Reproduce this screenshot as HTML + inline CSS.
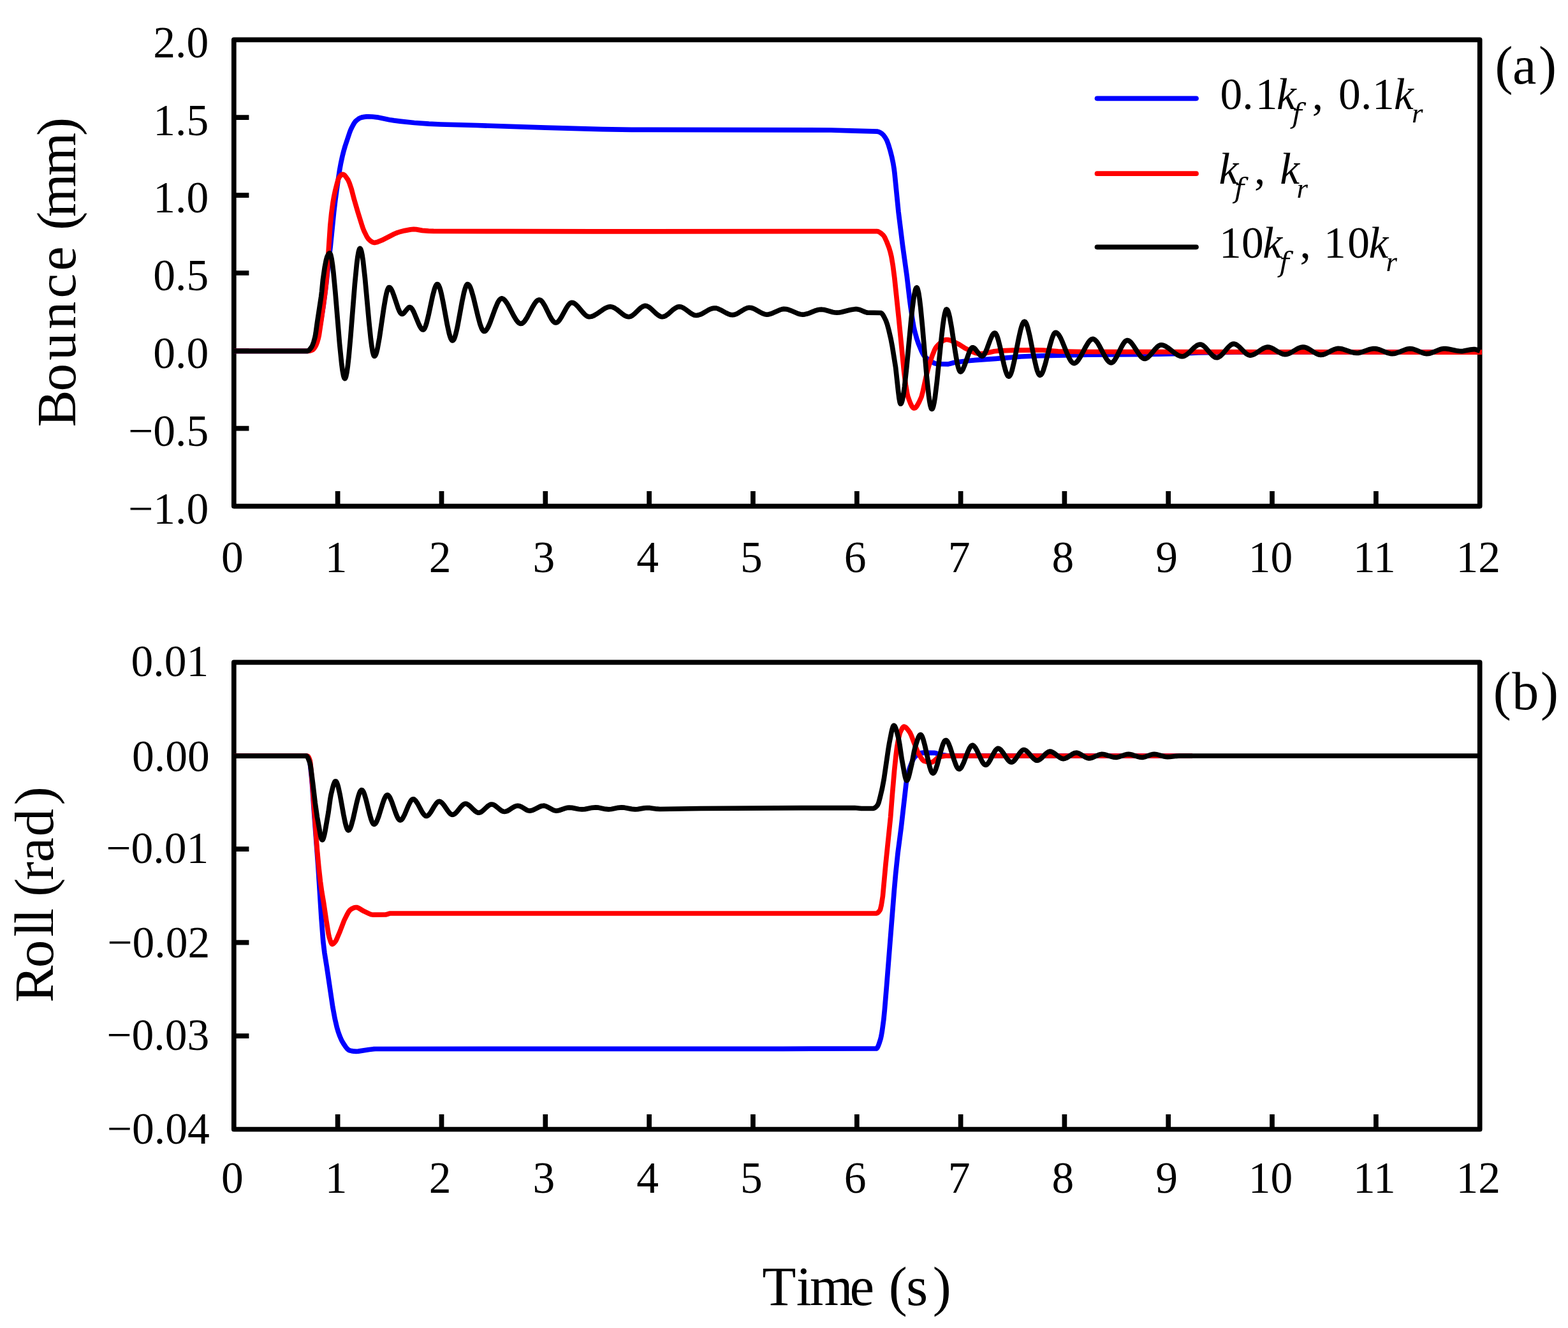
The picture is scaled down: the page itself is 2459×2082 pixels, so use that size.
<!DOCTYPE html>
<html><head><meta charset="utf-8"><title>Bounce and Roll response</title><style>html,body{margin:0;padding:0;background:#fff;}svg{display:block;}</style></head><body>
<svg width="2459" height="2082" viewBox="0 0 2459 2082">
<rect width="2459" height="2082" fill="#fff"/>
<rect x="366.8" y="62.3" width="1953.9" height="731.3" fill="none" stroke="#000" stroke-width="7.7" stroke-linejoin="round"/>
<path d="M529.6 793.6V770.0M692.5 793.6V770.0M855.3 793.6V770.0M1018.1 793.6V770.0M1180.9 793.6V770.0M1343.8 793.6V770.0M1506.6 793.6V770.0M1669.4 793.6V770.0M1832.2 793.6V770.0M1995.0 793.6V770.0M2157.9 793.6V770.0M366.8 184.2H390.4M366.8 306.1H390.4M366.8 428.0H390.4M366.8 549.8H390.4M366.8 671.7H390.4" stroke="#000" stroke-width="7.7" fill="none"/>
<rect x="366.8" y="1038.4" width="1953.9" height="732.1" fill="none" stroke="#000" stroke-width="7.7" stroke-linejoin="round"/>
<path d="M529.6 1770.5V1746.9M692.5 1770.5V1746.9M855.3 1770.5V1746.9M1018.1 1770.5V1746.9M1180.9 1770.5V1746.9M1343.8 1770.5V1746.9M1506.6 1770.5V1746.9M1669.4 1770.5V1746.9M1832.2 1770.5V1746.9M1995.0 1770.5V1746.9M2157.9 1770.5V1746.9M366.8 1184.8H390.4M366.8 1331.2H390.4M366.8 1477.7H390.4M366.8 1624.1H390.4" stroke="#000" stroke-width="7.7" fill="none"/>
<path d="M367.0 550.3 L482.6 550.3 L485.6 549.7 L488.8 548.4 L490.8 546.5 L493.2 543.2 L494.8 539.6 L497.2 532.4 L500.2 520.4 L502.2 509.9 L507.2 479.1 L511.0 449.4 L518.4 384.9 L523.6 332.8 L525.8 314.2 L528.6 293.6 L532.4 267.7 L534.4 256.6 L537.0 244.6 L539.0 236.7 L541.2 229.1 L548.2 208.1 L549.8 203.9 L551.4 200.5 L553.6 196.2 L555.6 192.8 L557.4 190.4 L559.4 188.5 L562.4 186.2 L565.0 184.8 L567.0 184.1 L570.8 183.4 L574.6 182.9 L578.0 182.8 L583.8 183.0 L591.4 183.8 L602.2 186.1 L610.4 187.7 L617.8 188.9 L627.4 190.1 L649.8 192.5 L672.6 194.2 L691.2 195.0 L747.6 196.5 L855.4 200.2 L944.0 202.6 L990.4 203.3 L1303.2 204.0 L1340.8 205.2 L1368.2 205.8 L1376.2 206.2 L1378.6 206.9 L1380.6 207.9 L1383.0 209.5 L1385.2 211.5 L1388.2 215.5 L1390.8 220.2 L1393.4 227.1 L1396.2 236.5 L1398.8 246.7 L1400.8 256.5 L1402.2 265.2 L1403.0 271.8 L1409.0 332.2 L1415.6 385.3 L1422.2 432.7 L1426.6 470.0 L1428.2 482.2 L1431.8 506.0 L1433.0 512.5 L1434.6 519.5 L1437.4 529.9 L1440.6 539.4 L1445.0 550.1 L1446.8 553.8 L1448.4 556.5 L1449.6 558.2 L1451.4 560.1 L1455.4 563.5 L1463.4 568.5 L1465.6 569.5 L1467.6 570.1 L1476.4 570.6 L1487.2 570.8 L1489.6 570.3 L1496.0 568.5 L1504.8 567.2 L1514.8 566.0 L1529.0 564.7 L1561.6 562.4 L1601.6 559.0 L1625.0 558.0 L1671.4 556.8 L1706.6 556.2 L1784.8 555.6 L1819.6 555.1 L1851.6 554.3 L1879.4 553.0 L1936.8 552.1 L2059.8 551.8 L2322.0 551.8" fill="none" stroke="#00f" stroke-width="7.7" stroke-linejoin="round" stroke-linecap="butt"/>
<path d="M367.0 550.3 L484.4 550.3 L487.2 549.7 L490.4 548.4 L492.2 546.7 L494.2 543.8 L495.8 540.9 L497.4 536.8 L499.2 530.7 L500.4 525.3 L504.4 498.4 L510.0 458.2 L511.6 443.3 L513.2 423.6 L517.8 354.0 L519.8 334.2 L522.0 318.0 L523.8 307.7 L525.6 299.2 L528.6 287.4 L530.4 281.3 L531.8 278.1 L533.4 276.0 L535.6 273.9 L536.6 273.4 L537.4 273.3 L538.4 273.5 L539.6 274.1 L541.0 275.4 L542.4 277.1 L545.8 282.0 L548.0 287.0 L551.2 296.5 L555.4 312.7 L561.0 331.8 L568.0 354.3 L569.6 358.9 L571.2 362.8 L575.0 370.4 L576.6 373.0 L578.0 374.9 L580.0 376.8 L582.8 378.9 L584.6 379.9 L586.4 380.4 L588.4 380.3 L590.8 379.8 L598.8 376.7 L618.2 366.8 L623.4 364.6 L629.0 362.9 L634.6 361.6 L643.8 359.9 L648.8 359.4 L652.6 359.6 L662.2 361.4 L672.2 362.1 L680.0 362.3 L795.4 362.7 L932.0 362.9 L1375.0 362.6 L1376.4 362.8 L1377.8 363.2 L1380.8 365.0 L1384.8 368.4 L1386.2 370.1 L1387.8 372.8 L1390.6 379.0 L1394.2 388.4 L1396.2 395.0 L1398.0 402.5 L1400.4 416.9 L1402.8 435.5 L1409.4 498.3 L1417.4 580.2 L1418.4 588.9 L1420.4 603.4 L1422.8 617.4 L1423.8 621.4 L1425.4 626.1 L1427.6 632.0 L1429.6 636.2 L1431.4 638.8 L1432.4 639.7 L1433.2 640.0 L1434.4 639.8 L1435.6 639.2 L1436.8 638.0 L1438.2 636.1 L1441.2 630.7 L1445.0 622.2 L1447.2 614.1 L1452.0 591.7 L1456.4 574.6 L1457.8 569.9 L1461.6 558.7 L1465.4 549.1 L1467.0 546.0 L1468.4 543.9 L1471.6 540.4 L1474.4 537.6 L1476.8 535.6 L1479.2 534.1 L1481.4 533.1 L1483.6 532.5 L1485.6 532.5 L1488.0 532.9 L1490.4 533.6 L1493.0 534.5 L1504.2 540.0 L1514.4 546.4 L1523.4 550.7 L1527.4 552.5 L1530.6 553.6 L1533.6 554.3 L1536.4 554.6 L1539.4 554.5 L1542.8 554.1 L1551.4 552.5 L1559.2 550.8 L1564.2 550.2 L1576.0 549.6 L1588.6 549.2 L1624.4 548.8 L1636.0 549.0 L1659.2 550.8 L1697.6 551.5 L2324.0 552.1" fill="none" stroke="#f00" stroke-width="7.7" stroke-linejoin="round" stroke-linecap="butt"/>
<path d="M367.0 550.3 L482.0 550.3 L483.6 549.8 L485.2 548.5 L488.4 544.5 L490.0 541.5 L492.0 536.0 L494.2 527.8 L495.2 522.0 L497.4 506.0 L503.6 465.3 L504.6 457.1 L506.4 438.8 L509.2 419.2 L511.4 408.1 L512.8 402.9 L514.0 400.3 L515.4 398.0 L516.4 397.0 L517.2 396.8 L517.8 397.5 L518.6 399.3 L520.0 405.4 L521.4 414.5 L523.0 428.0 L526.0 459.9 L532.6 539.5 L535.8 571.1 L537.2 581.4 L538.6 588.8 L539.4 591.5 L540.0 592.8 L540.6 593.5 L541.2 593.3 L541.8 592.4 L542.6 590.2 L544.0 583.4 L545.4 573.6 L547.0 559.2 L549.8 528.0 L556.4 445.5 L559.4 414.5 L560.8 403.4 L562.2 395.3 L563.4 391.0 L564.0 389.9 L564.6 389.5 L565.0 389.7 L565.6 390.5 L566.8 394.0 L568.0 399.8 L569.4 409.1 L572.4 436.0 L578.6 503.7 L581.4 530.8 L583.0 543.2 L584.4 551.4 L585.8 556.6 L586.4 557.9 L587.0 558.5 L587.6 558.4 L588.2 557.9 L589.4 555.7 L590.6 552.2 L592.0 546.4 L595.0 529.9 L601.8 483.6 L604.6 467.0 L606.2 459.5 L607.6 454.6 L609.0 451.5 L609.6 450.8 L610.2 450.5 L611.2 450.7 L612.4 451.8 L613.6 453.5 L615.0 456.2 L617.6 463.0 L624.4 483.2 L626.4 487.9 L628.2 490.9 L629.2 491.9 L630.0 492.3 L630.8 492.4 L631.8 492.1 L632.8 491.4 L634.0 490.2 L638.6 484.4 L640.6 482.4 L641.6 481.8 L642.6 481.6 L643.4 481.7 L644.4 482.3 L646.4 484.5 L648.8 488.9 L656.2 506.8 L658.8 512.3 L660.2 514.5 L661.4 515.9 L662.6 516.8 L663.6 517.0 L664.2 516.8 L664.8 516.4 L666.2 514.3 L667.6 510.9 L669.2 505.7 L672.0 494.2 L678.4 464.3 L681.4 453.1 L682.8 449.3 L684.2 446.7 L685.0 445.8 L685.6 445.5 L686.2 445.5 L686.8 445.9 L688.0 447.4 L689.4 450.7 L690.8 455.2 L692.2 460.8 L695.0 474.4 L701.4 509.2 L704.4 522.8 L705.8 527.6 L707.2 531.3 L708.4 533.2 L709.0 533.8 L709.6 534.0 L710.2 533.9 L710.8 533.4 L712.0 531.7 L713.2 528.8 L714.6 524.2 L716.2 517.7 L717.8 510.1 L724.6 473.0 L727.6 458.8 L729.2 452.9 L730.6 448.9 L732.0 446.4 L732.8 445.7 L733.4 445.5 L734.6 446.0 L736.0 447.6 L737.4 450.2 L739.0 454.4 L742.4 466.1 L749.6 496.1 L752.8 507.9 L754.6 513.1 L756.2 516.6 L757.8 518.8 L758.6 519.3 L759.2 519.5 L760.6 519.2 L762.0 518.1 L763.4 516.4 L765.0 513.7 L766.8 510.0 L768.6 505.7 L776.4 484.3 L779.8 476.1 L781.6 472.6 L783.4 470.0 L785.0 468.5 L786.6 467.9 L788.0 468.1 L789.6 468.9 L791.2 470.3 L793.0 472.4 L795.0 475.2 L797.0 478.6 L805.6 495.0 L809.4 501.4 L811.4 504.0 L813.2 505.9 L815.0 507.0 L816.8 507.5 L818.2 507.3 L819.8 506.4 L821.4 505.0 L823.0 503.2 L826.8 497.3 L834.8 482.0 L838.4 476.0 L840.4 473.3 L842.2 471.5 L844.0 470.4 L845.6 470.0 L846.8 470.2 L848.2 470.9 L849.6 472.2 L851.2 474.2 L854.6 479.8 L862.0 494.8 L865.2 500.5 L867.0 503.0 L868.6 504.7 L870.2 505.7 L871.6 506.0 L872.8 505.8 L874.2 505.1 L875.6 503.9 L877.0 502.3 L880.4 497.1 L887.4 484.3 L890.4 479.5 L892.0 477.4 L893.6 475.8 L895.2 474.8 L896.6 474.4 L898.0 474.5 L899.4 475.0 L901.0 475.8 L902.6 477.0 L906.2 480.5 L913.8 489.5 L917.2 493.1 L919.0 494.6 L920.8 495.8 L922.4 496.4 L924.0 496.7 L927.4 496.3 L931.2 494.9 L935.6 492.3 L945.0 485.8 L949.0 483.3 L953.2 481.5 L955.2 481.0 L957.0 480.8 L960.0 481.2 L963.4 482.6 L967.2 485.1 L975.2 491.6 L978.8 494.2 L982.6 496.1 L984.4 496.5 L986.0 496.7 L988.6 496.2 L991.6 494.7 L995.0 492.0 L1002.2 485.0 L1005.4 482.2 L1008.8 480.1 L1010.4 479.6 L1011.8 479.4 L1013.2 479.5 L1014.6 479.9 L1017.6 481.4 L1021.2 484.2 L1028.6 491.2 L1031.8 493.9 L1035.2 495.9 L1036.8 496.5 L1038.4 496.7 L1041.2 496.3 L1044.2 494.9 L1047.8 492.3 L1055.4 485.7 L1058.6 483.3 L1062.0 481.5 L1063.6 481.0 L1065.0 480.8 L1067.8 481.1 L1070.8 482.3 L1074.4 484.5 L1082.0 490.2 L1085.2 492.3 L1088.6 493.9 L1090.2 494.3 L1091.8 494.5 L1094.8 494.2 L1098.0 493.2 L1101.8 491.4 L1109.8 486.7 L1113.2 484.9 L1116.8 483.6 L1120.2 483.0 L1123.2 483.2 L1126.4 484.2 L1130.2 485.9 L1138.4 490.5 L1141.8 492.1 L1145.4 493.4 L1148.8 493.8 L1151.6 493.4 L1154.6 492.4 L1158.0 490.6 L1165.4 486.0 L1168.6 484.2 L1172.0 482.8 L1175.0 482.3 L1177.8 482.5 L1181.0 483.5 L1184.8 485.3 L1192.4 489.6 L1195.8 491.4 L1199.4 492.7 L1202.6 493.1 L1205.6 492.8 L1208.8 492.0 L1212.4 490.6 L1222.8 485.9 L1226.2 484.9 L1229.2 484.4 L1232.4 484.6 L1236.0 485.3 L1240.0 486.8 L1251.6 491.7 L1255.4 492.7 L1258.8 493.1 L1262.0 492.8 L1265.4 492.1 L1269.2 490.8 L1279.6 486.7 L1282.8 485.8 L1285.8 485.3 L1288.8 485.2 L1292.2 485.6 L1295.8 486.5 L1306.2 489.5 L1309.4 490.0 L1312.4 490.2 L1316.0 490.0 L1320.0 489.3 L1332.6 486.1 L1336.8 485.2 L1340.8 484.7 L1344.2 484.7 L1348.0 485.5 L1356.6 489.1 L1360.4 490.2 L1381.0 490.5 L1381.8 490.7 L1383.2 491.8 L1384.8 493.9 L1386.6 497.1 L1389.2 502.4 L1391.4 508.5 L1393.8 517.3 L1397.0 531.0 L1399.2 542.4 L1404.6 576.2 L1408.6 613.0 L1410.0 624.2 L1411.2 630.8 L1411.8 632.6 L1412.4 633.2 L1413.0 632.9 L1413.8 631.6 L1414.6 629.3 L1415.4 626.1 L1417.0 617.2 L1418.6 605.5 L1421.8 576.0 L1429.0 500.1 L1430.8 483.6 L1432.4 471.0 L1433.8 462.1 L1435.2 455.5 L1436.0 453.0 L1436.6 451.7 L1437.2 451.0 L1437.8 450.9 L1438.4 451.5 L1439.2 453.4 L1440.6 459.2 L1442.0 468.0 L1443.6 481.1 L1446.6 512.0 L1453.2 589.1 L1456.4 619.7 L1457.8 629.6 L1459.0 636.0 L1460.2 640.0 L1460.8 641.0 L1461.4 641.4 L1462.0 641.1 L1462.6 640.2 L1463.8 636.7 L1465.0 631.2 L1466.4 622.6 L1469.4 598.1 L1475.8 534.8 L1478.6 510.3 L1480.2 499.1 L1481.6 491.7 L1483.0 486.8 L1483.8 485.3 L1484.4 484.9 L1485.0 485.1 L1485.6 485.6 L1486.8 487.9 L1488.0 491.7 L1489.4 497.5 L1492.2 512.9 L1498.0 551.1 L1500.4 565.3 L1501.8 572.1 L1503.0 576.8 L1504.2 580.3 L1505.4 582.4 L1506.0 582.8 L1506.4 582.9 L1507.6 582.4 L1509.0 580.8 L1510.4 578.3 L1513.0 572.0 L1519.8 552.5 L1521.6 548.6 L1523.4 545.9 L1524.4 545.0 L1525.2 544.8 L1526.2 544.9 L1527.4 545.5 L1528.6 546.5 L1530.0 548.0 L1535.0 554.5 L1537.2 556.9 L1538.4 557.8 L1539.6 558.3 L1540.6 558.4 L1541.6 557.9 L1542.6 557.0 L1543.6 555.7 L1545.8 551.5 L1548.0 546.1 L1553.0 532.5 L1555.6 526.6 L1556.8 524.6 L1558.0 523.0 L1559.2 522.2 L1560.2 522.0 L1561.4 522.8 L1562.8 525.0 L1564.2 528.5 L1565.6 533.0 L1568.2 543.4 L1574.4 571.4 L1577.2 581.9 L1578.6 585.8 L1579.8 588.3 L1581.0 589.8 L1582.0 590.2 L1582.6 590.0 L1583.2 589.6 L1584.4 587.9 L1585.8 584.7 L1587.2 580.3 L1590.4 566.9 L1597.4 531.2 L1600.4 517.8 L1602.0 512.0 L1603.6 507.6 L1605.2 504.9 L1606.0 504.3 L1606.6 504.1 L1607.2 504.3 L1607.8 504.7 L1609.0 506.4 L1610.4 509.6 L1611.8 513.9 L1615.0 527.2 L1622.0 562.4 L1625.0 575.5 L1626.6 581.1 L1628.2 585.2 L1629.6 587.5 L1630.4 588.1 L1631.0 588.3 L1632.2 587.8 L1633.4 586.5 L1634.8 584.0 L1636.2 580.5 L1639.4 570.1 L1646.4 542.2 L1649.4 531.7 L1651.0 527.3 L1652.6 523.9 L1654.0 522.0 L1654.8 521.5 L1655.4 521.3 L1656.8 521.6 L1658.4 522.7 L1660.0 524.5 L1661.6 526.9 L1663.4 530.2 L1665.4 534.5 L1673.4 554.1 L1677.0 561.9 L1679.0 565.3 L1680.8 567.6 L1682.6 569.1 L1684.2 569.6 L1685.6 569.4 L1687.2 568.6 L1688.8 567.2 L1690.6 565.1 L1694.4 559.2 L1702.8 543.4 L1706.4 537.4 L1708.4 534.8 L1710.2 533.0 L1712.0 531.8 L1713.6 531.4 L1715.0 531.6 L1716.6 532.4 L1718.2 533.8 L1719.8 535.6 L1721.6 538.1 L1723.6 541.4 L1731.8 557.0 L1735.4 563.0 L1737.2 565.3 L1739.0 567.2 L1740.8 568.4 L1742.4 568.8 L1743.6 568.6 L1745.0 567.9 L1746.4 566.6 L1747.8 564.9 L1751.2 559.3 L1758.4 544.6 L1761.6 538.9 L1763.2 536.7 L1764.8 535.0 L1766.4 533.9 L1767.8 533.6 L1769.2 533.8 L1770.6 534.4 L1772.0 535.4 L1773.6 536.9 L1777.2 541.5 L1784.8 553.2 L1788.2 557.8 L1790.0 559.8 L1791.8 561.2 L1793.4 562.1 L1795.0 562.4 L1796.2 562.3 L1797.6 561.8 L1799.0 561.1 L1800.6 559.9 L1804.0 556.5 L1811.2 547.7 L1814.4 544.3 L1816.2 542.8 L1817.8 541.7 L1819.4 541.0 L1820.8 540.8 L1822.4 540.9 L1824.2 541.3 L1828.0 542.9 L1832.4 545.7 L1841.8 553.2 L1846.0 556.1 L1848.2 557.3 L1850.4 558.2 L1852.4 558.7 L1854.2 558.8 L1855.8 558.6 L1857.6 558.0 L1859.4 557.0 L1861.2 555.8 L1864.6 552.9 L1872.6 545.1 L1876.6 541.9 L1878.4 540.9 L1880.2 540.3 L1881.8 540.0 L1883.4 540.1 L1884.8 540.6 L1886.2 541.3 L1889.2 543.7 L1892.2 546.9 L1899.0 554.8 L1902.2 558.0 L1905.2 560.0 L1906.6 560.5 L1908.0 560.7 L1909.4 560.6 L1910.8 560.1 L1913.8 558.2 L1917.4 554.7 L1924.8 545.9 L1928.0 542.6 L1929.8 541.1 L1931.4 540.1 L1933.0 539.4 L1934.6 539.1 L1935.8 539.2 L1937.2 539.5 L1940.2 541.1 L1943.6 543.9 L1951.0 551.4 L1954.2 554.3 L1956.0 555.5 L1957.6 556.4 L1959.2 556.9 L1960.6 557.1 L1963.4 556.7 L1966.4 555.6 L1970.0 553.6 L1977.8 548.2 L1981.2 546.1 L1984.6 544.7 L1987.8 544.1 L1990.6 544.4 L1993.8 545.4 L1997.4 547.2 L2005.0 551.9 L2008.4 553.7 L2012.0 555.1 L2015.2 555.6 L2018.2 555.3 L2021.4 554.3 L2025.0 552.5 L2033.0 547.7 L2036.4 545.9 L2040.0 544.6 L2043.4 544.1 L2046.2 544.4 L2049.4 545.5 L2053.2 547.5 L2061.0 552.5 L2064.4 554.4 L2068.0 555.9 L2071.2 556.4 L2074.0 556.2 L2077.2 555.3 L2080.8 553.7 L2088.6 549.5 L2092.0 547.9 L2095.4 546.8 L2098.6 546.3 L2101.6 546.5 L2105.0 547.1 L2108.8 548.3 L2120.4 552.3 L2124.2 553.2 L2127.6 553.5 L2130.8 553.3 L2134.4 552.4 L2146.0 548.3 L2149.8 547.2 L2153.4 546.6 L2156.8 546.6 L2159.8 547.1 L2163.0 548.0 L2173.4 552.3 L2177.0 553.5 L2180.2 554.3 L2183.2 554.6 L2186.2 554.4 L2189.4 553.7 L2193.2 552.4 L2204.2 548.0 L2207.8 547.0 L2211.0 546.6 L2213.8 546.8 L2217.0 547.5 L2220.6 548.8 L2231.0 553.3 L2234.4 554.2 L2237.4 554.6 L2240.4 554.4 L2243.6 553.7 L2247.2 552.4 L2257.8 548.0 L2261.2 547.0 L2264.2 546.6 L2267.2 546.7 L2270.8 547.1 L2283.8 549.8 L2289.2 550.5 L2292.0 550.6 L2294.8 550.3 L2306.4 548.1 L2311.2 547.6 L2313.2 547.7 L2315.4 548.2 L2321.0 550.3" fill="none" stroke="#000" stroke-width="7.7" stroke-linejoin="round" stroke-linecap="butt"/>
<path d="M367.0 1185.2 L481.0 1185.2 L481.8 1185.5 L482.8 1186.6 L484.8 1190.5 L485.6 1193.3 L486.6 1200.2 L488.4 1217.0 L489.4 1228.7 L492.4 1271.7 L499.0 1360.2 L504.0 1439.7 L506.8 1476.2 L509.0 1494.3 L512.4 1515.3 L521.8 1578.8 L525.2 1597.1 L528.4 1610.9 L530.2 1616.9 L532.4 1623.2 L534.4 1628.1 L536.4 1632.3 L538.6 1636.0 L542.2 1641.4 L544.4 1644.1 L546.2 1645.8 L548.0 1646.7 L551.4 1647.6 L555.0 1648.2 L558.4 1648.4 L562.0 1648.1 L579.0 1645.5 L585.6 1644.7 L589.0 1644.5 L1227.6 1644.3 L1374.4 1644.0 L1375.0 1643.6 L1375.8 1642.7 L1377.2 1640.0 L1379.0 1635.1 L1381.2 1628.0 L1382.2 1623.4 L1383.4 1616.4 L1385.8 1598.8 L1387.4 1582.3 L1390.4 1546.2 L1402.4 1395.0 L1404.6 1370.2 L1408.0 1337.6 L1413.2 1297.8 L1421.0 1228.9 L1421.8 1223.5 L1423.2 1216.6 L1424.8 1210.1 L1426.4 1204.7 L1429.0 1197.7 L1431.4 1192.0 L1433.2 1188.7 L1435.0 1186.4 L1438.4 1183.6 L1441.2 1181.8 L1443.8 1180.6 L1446.4 1180.2 L1465.0 1180.3 L1467.8 1180.8 L1473.6 1182.8 L1476.2 1183.4 L1484.6 1184.5 L1490.6 1184.9 L1870.0 1185.0" fill="none" stroke="#00f" stroke-width="7.7" stroke-linejoin="round" stroke-linecap="butt"/>
<path d="M367.0 1185.2 L482.0 1185.2 L483.0 1185.7 L484.2 1187.5 L485.2 1189.8 L486.2 1192.7 L486.8 1196.5 L487.6 1204.2 L490.0 1232.0 L497.0 1328.0 L499.8 1358.4 L502.4 1381.7 L504.6 1397.7 L507.6 1415.3 L511.8 1443.6 L515.2 1464.3 L516.4 1469.7 L518.6 1476.6 L519.8 1479.3 L520.4 1480.0 L521.0 1480.3 L522.2 1479.9 L523.6 1478.8 L526.2 1475.7 L527.4 1473.8 L532.4 1462.1 L539.8 1442.9 L544.2 1434.0 L546.8 1429.4 L548.8 1426.8 L550.8 1425.3 L554.8 1423.3 L556.4 1422.7 L558.0 1422.5 L560.0 1422.7 L562.4 1423.6 L570.6 1428.6 L579.0 1432.5 L582.4 1433.8 L585.4 1434.2 L604.8 1434.0 L606.4 1433.6 L610.2 1432.3 L612.0 1432.0 L1374.0 1432.0 L1375.2 1431.8 L1376.6 1430.9 L1378.0 1429.6 L1380.0 1427.0 L1380.6 1425.7 L1382.2 1419.0 L1384.4 1405.0 L1389.0 1354.7 L1396.6 1281.1 L1399.4 1245.2 L1402.6 1207.8 L1405.0 1184.9 L1406.8 1170.4 L1409.0 1158.2 L1411.2 1149.6 L1412.8 1145.8 L1414.8 1141.9 L1416.2 1140.0 L1417.4 1139.2 L1418.2 1139.2 L1419.2 1139.6 L1421.4 1141.2 L1424.0 1144.2 L1427.2 1148.8 L1429.2 1153.2 L1432.8 1162.8 L1439.0 1178.4 L1440.6 1181.7 L1445.4 1189.5 L1447.2 1191.7 L1449.0 1193.1 L1453.2 1194.2 L1457.4 1194.8 L1461.0 1195.0 L1462.8 1194.5 L1465.0 1192.9 L1469.8 1188.5 L1472.0 1187.1 L1478.4 1185.6 L1483.4 1185.0 L1870.0 1185.0" fill="none" stroke="#f00" stroke-width="7.7" stroke-linejoin="round" stroke-linecap="butt"/>
<path d="M367.0 1185.2 L480.2 1185.2 L480.8 1185.4 L481.4 1185.8 L482.8 1187.9 L484.2 1191.2 L486.0 1196.3 L486.8 1199.9 L488.0 1207.7 L490.6 1227.9 L494.2 1258.5 L497.4 1280.9 L502.8 1310.8 L504.2 1315.6 L504.8 1316.6 L505.4 1316.9 L505.8 1316.7 L506.4 1315.9 L507.4 1313.6 L508.6 1309.2 L509.8 1303.5 L515.0 1273.5 L517.8 1253.2 L519.0 1246.4 L521.6 1235.4 L523.2 1229.8 L524.8 1226.0 L525.6 1225.0 L526.2 1224.8 L527.2 1225.3 L528.2 1226.9 L529.2 1229.4 L530.4 1233.4 L533.2 1246.1 L538.8 1277.3 L541.4 1290.0 L542.8 1295.3 L544.0 1298.8 L545.2 1301.0 L545.8 1301.6 L546.4 1301.8 L547.4 1301.4 L548.6 1299.8 L549.6 1297.8 L550.8 1294.5 L553.6 1284.3 L559.4 1258.5 L562.0 1248.4 L563.4 1244.1 L564.8 1240.8 L566.0 1239.1 L566.6 1238.7 L567.2 1238.5 L568.2 1238.9 L569.2 1240.1 L570.2 1241.9 L571.4 1244.9 L574.0 1253.6 L579.4 1275.4 L581.8 1283.9 L583.2 1287.8 L584.4 1290.3 L585.6 1291.9 L586.6 1292.4 L587.6 1292.1 L588.8 1291.1 L589.8 1289.6 L591.0 1287.3 L593.8 1280.0 L599.6 1261.3 L602.2 1253.8 L603.6 1250.6 L605.0 1248.2 L606.2 1246.9 L607.4 1246.4 L608.4 1246.6 L609.4 1247.4 L610.6 1248.9 L611.8 1251.0 L614.4 1257.1 L620.2 1273.7 L622.6 1279.7 L624.0 1282.5 L625.2 1284.3 L626.4 1285.5 L627.6 1286.0 L628.6 1285.8 L629.6 1285.2 L630.8 1283.9 L632.0 1282.1 L634.6 1277.0 L640.4 1263.1 L642.8 1258.1 L644.2 1255.7 L645.4 1254.2 L646.6 1253.2 L647.8 1252.8 L648.8 1252.9 L650.0 1253.6 L652.2 1255.8 L655.0 1260.0 L660.8 1270.9 L663.4 1275.2 L664.8 1277.0 L666.2 1278.4 L667.4 1279.2 L668.6 1279.5 L669.6 1279.4 L670.6 1278.9 L671.8 1278.0 L673.0 1276.8 L675.6 1273.3 L681.4 1263.6 L683.8 1260.1 L685.2 1258.4 L686.4 1257.4 L687.6 1256.7 L688.8 1256.4 L689.8 1256.5 L691.0 1257.0 L693.2 1258.7 L696.0 1262.0 L701.8 1270.5 L704.4 1273.9 L705.8 1275.4 L707.2 1276.5 L708.4 1277.1 L709.6 1277.3 L711.6 1276.9 L714.0 1275.3 L716.6 1272.6 L722.4 1265.4 L724.8 1262.8 L727.4 1260.7 L728.6 1260.2 L729.8 1260.0 L732.0 1260.4 L734.2 1261.6 L737.0 1263.8 L743.0 1269.7 L745.6 1272.0 L748.4 1273.7 L749.6 1274.1 L750.8 1274.2 L752.8 1273.8 L755.0 1272.7 L757.8 1270.5 L763.4 1265.2 L766.0 1263.0 L768.6 1261.5 L769.8 1261.1 L771.0 1261.0 L773.0 1261.3 L775.2 1262.3 L778.0 1264.2 L783.6 1268.9 L786.0 1270.7 L788.6 1272.0 L791.0 1272.5 L793.2 1272.2 L795.4 1271.5 L798.2 1270.0 L804.2 1266.1 L806.8 1264.6 L809.6 1263.5 L812.0 1263.2 L814.0 1263.5 L816.0 1264.1 L818.4 1265.3 L826.0 1269.9 L828.4 1270.8 L830.6 1271.1 L832.8 1270.9 L835.2 1270.2 L838.2 1268.9 L846.8 1264.5 L849.6 1263.5 L852.2 1263.2 L854.2 1263.4 L856.6 1264.1 L859.2 1265.4 L867.4 1269.9 L870.0 1270.8 L872.4 1271.1 L874.4 1271.0 L876.8 1270.5 L887.4 1266.9 L890.0 1266.3 L892.4 1266.1 L896.8 1266.4 L907.6 1268.5 L912.6 1268.9 L917.2 1268.6 L928.8 1266.3 L934.2 1265.8 L938.6 1266.2 L949.4 1268.4 L954.4 1268.9 L958.8 1268.5 L969.6 1266.3 L974.6 1265.8 L979.2 1266.2 L990.8 1268.4 L996.0 1268.9 L1000.2 1268.6 L1010.4 1266.9 L1015.0 1266.5 L1019.2 1266.7 L1030.0 1268.2 L1035.0 1268.5 L1099.0 1267.5 L1256.8 1266.6 L1340.2 1266.5 L1350.8 1267.5 L1369.6 1267.4 L1371.2 1266.9 L1372.8 1265.8 L1374.8 1264.0 L1376.4 1262.1 L1378.0 1258.2 L1379.8 1251.6 L1383.2 1237.4 L1386.2 1221.8 L1393.2 1173.7 L1394.6 1165.3 L1397.6 1149.9 L1399.0 1143.7 L1400.4 1139.2 L1401.2 1137.8 L1401.8 1137.4 L1402.4 1137.6 L1403.2 1138.4 L1404.8 1141.9 L1406.4 1147.1 L1409.2 1158.0 L1410.8 1166.6 L1414.2 1189.7 L1418.4 1213.0 L1419.4 1217.7 L1420.4 1221.3 L1421.2 1223.1 L1421.6 1223.6 L1422.0 1223.8 L1422.8 1223.3 L1423.8 1221.5 L1424.8 1218.7 L1426.0 1214.3 L1429.8 1198.2 L1433.4 1178.9 L1435.0 1172.0 L1438.2 1161.6 L1440.2 1156.1 L1442.0 1152.8 L1442.8 1152.1 L1443.6 1151.8 L1444.6 1152.3 L1445.6 1153.6 L1446.6 1155.7 L1447.8 1159.0 L1450.4 1168.7 L1455.8 1193.2 L1458.2 1202.8 L1459.6 1207.2 L1460.8 1210.0 L1462.0 1211.7 L1463.0 1212.3 L1464.0 1212.0 L1465.0 1211.0 L1466.2 1209.0 L1467.4 1206.2 L1470.0 1198.2 L1475.8 1176.4 L1478.2 1168.5 L1479.6 1164.9 L1480.8 1162.5 L1482.0 1161.0 L1483.2 1160.5 L1484.2 1160.8 L1485.4 1161.9 L1486.4 1163.4 L1487.6 1165.7 L1490.4 1172.9 L1496.2 1191.3 L1498.8 1198.5 L1500.2 1201.7 L1501.6 1204.0 L1502.8 1205.3 L1504.0 1205.8 L1505.0 1205.6 L1506.2 1204.7 L1507.2 1203.6 L1508.4 1201.7 L1511.2 1195.8 L1517.2 1180.1 L1519.8 1174.2 L1521.2 1171.7 L1522.6 1169.8 L1523.8 1168.8 L1525.0 1168.4 L1526.0 1168.6 L1527.2 1169.4 L1529.4 1172.0 L1532.2 1176.9 L1538.0 1189.5 L1540.6 1194.5 L1542.0 1196.6 L1543.4 1198.2 L1544.6 1199.0 L1545.8 1199.3 L1546.8 1199.1 L1547.8 1198.5 L1550.0 1196.2 L1552.6 1192.0 L1558.0 1181.6 L1560.4 1177.5 L1561.8 1175.6 L1563.0 1174.4 L1564.2 1173.6 L1565.2 1173.4 L1566.2 1173.5 L1567.4 1174.0 L1569.6 1175.8 L1572.4 1179.2 L1578.4 1188.2 L1581.0 1191.7 L1582.4 1193.1 L1583.8 1194.2 L1585.0 1194.8 L1586.2 1195.0 L1587.2 1194.9 L1588.2 1194.4 L1590.4 1192.7 L1592.8 1189.8 L1598.4 1181.6 L1600.8 1178.6 L1602.2 1177.2 L1603.4 1176.3 L1604.6 1175.7 L1605.6 1175.6 L1606.6 1175.7 L1607.8 1176.1 L1610.0 1177.5 L1612.8 1180.2 L1618.6 1186.9 L1621.2 1189.6 L1624.0 1191.6 L1625.2 1192.1 L1626.4 1192.3 L1628.4 1191.9 L1630.8 1190.6 L1633.4 1188.5 L1639.2 1182.5 L1641.6 1180.4 L1644.2 1178.7 L1645.4 1178.3 L1646.6 1178.1 L1648.8 1178.4 L1651.0 1179.4 L1653.8 1181.2 L1659.8 1186.0 L1662.4 1187.8 L1665.2 1189.2 L1667.6 1189.6 L1669.6 1189.3 L1671.8 1188.5 L1674.6 1187.0 L1682.6 1181.7 L1685.2 1180.6 L1687.6 1180.2 L1689.6 1180.4 L1692.0 1181.2 L1694.6 1182.6 L1702.8 1187.5 L1705.4 1188.5 L1707.8 1188.9 L1709.8 1188.7 L1712.2 1188.1 L1714.8 1187.1 L1723.0 1183.4 L1725.6 1182.7 L1728.0 1182.4 L1730.2 1182.5 L1732.6 1183.0 L1744.2 1186.6 L1747.0 1187.2 L1749.6 1187.4 L1751.6 1187.3 L1753.8 1186.8 L1764.8 1183.2 L1767.4 1182.6 L1769.8 1182.4 L1772.0 1182.6 L1774.2 1183.0 L1785.4 1186.6 L1788.2 1187.2 L1790.6 1187.4 L1792.6 1187.3 L1794.8 1186.8 L1805.2 1183.2 L1807.8 1182.6 L1810.0 1182.4 L1814.4 1182.9 L1825.8 1186.0 L1828.6 1186.5 L1831.0 1186.7 L1835.0 1186.5 L1845.2 1185.3 L1849.8 1185.0 L2321.0 1185.0" fill="none" stroke="#000" stroke-width="7.7" stroke-linejoin="round" stroke-linecap="butt"/>
<path d="M1720.5 154.3H1876" stroke="#00f" stroke-width="7.7" stroke-linecap="round"/>
<path d="M1720.5 272.2H1876" stroke="#f00" stroke-width="7.7" stroke-linecap="round"/>
<path d="M1720.5 387.3H1876" stroke="#000" stroke-width="7.7" stroke-linecap="round"/>
<g font-family="'Liberation Serif','Times New Roman',serif" fill="#000">
<text x="327.2" y="89.6" font-size="69.5" text-anchor="end">2.0</text>
<text x="327.2" y="211.5" font-size="69.5" text-anchor="end">1.5</text>
<text x="327.2" y="333.4" font-size="69.5" text-anchor="end">1.0</text>
<text x="327.2" y="455.3" font-size="69.5" text-anchor="end">0.5</text>
<text x="327.2" y="577.1" font-size="69.5" text-anchor="end">0.0</text>
<text x="327.2" y="699.0" font-size="69.5" text-anchor="end">−0.5</text>
<text x="327.2" y="820.9" font-size="69.5" text-anchor="end">−1.0</text>
<text x="327.2" y="1060.4" font-size="69.5" text-anchor="end">0.01</text>
<text x="328.7" y="1209.4" font-size="69.5" text-anchor="end">0.00</text>
<text x="327.2" y="1353.2" font-size="69.5" text-anchor="end">−0.01</text>
<text x="329.2" y="1501.2" font-size="69.5" text-anchor="end">−0.02</text>
<text x="328.2" y="1646.1" font-size="69.5" text-anchor="end">−0.03</text>
<text x="328.7" y="1792.5" font-size="69.5" text-anchor="end">−0.04</text>
<text x="364.3" y="897.0" font-size="69.5" text-anchor="middle">0</text>
<text x="364.3" y="1870.0" font-size="69.5" text-anchor="middle">0</text>
<text x="527.1" y="897.0" font-size="69.5" text-anchor="middle">1</text>
<text x="527.1" y="1870.0" font-size="69.5" text-anchor="middle">1</text>
<text x="690.0" y="897.0" font-size="69.5" text-anchor="middle">2</text>
<text x="690.0" y="1870.0" font-size="69.5" text-anchor="middle">2</text>
<text x="852.8" y="897.0" font-size="69.5" text-anchor="middle">3</text>
<text x="852.8" y="1870.0" font-size="69.5" text-anchor="middle">3</text>
<text x="1015.6" y="897.0" font-size="69.5" text-anchor="middle">4</text>
<text x="1015.6" y="1870.0" font-size="69.5" text-anchor="middle">4</text>
<text x="1178.4" y="897.0" font-size="69.5" text-anchor="middle">5</text>
<text x="1178.4" y="1870.0" font-size="69.5" text-anchor="middle">5</text>
<text x="1341.2" y="897.0" font-size="69.5" text-anchor="middle">6</text>
<text x="1341.2" y="1870.0" font-size="69.5" text-anchor="middle">6</text>
<text x="1504.1" y="897.0" font-size="69.5" text-anchor="middle">7</text>
<text x="1504.1" y="1870.0" font-size="69.5" text-anchor="middle">7</text>
<text x="1666.9" y="897.0" font-size="69.5" text-anchor="middle">8</text>
<text x="1666.9" y="1870.0" font-size="69.5" text-anchor="middle">8</text>
<text x="1829.7" y="897.0" font-size="69.5" text-anchor="middle">9</text>
<text x="1829.7" y="1870.0" font-size="69.5" text-anchor="middle">9</text>
<text x="1992.5" y="897.0" font-size="69.5" text-anchor="middle">10</text>
<text x="1992.5" y="1870.0" font-size="69.5" text-anchor="middle">10</text>
<text x="2155.4" y="897.0" font-size="69.5" text-anchor="middle">11</text>
<text x="2155.4" y="1870.0" font-size="69.5" text-anchor="middle">11</text>
<text x="2318.2" y="897.0" font-size="69.5" text-anchor="middle">12</text>
<text x="2318.2" y="1870.0" font-size="69.5" text-anchor="middle">12</text>
<text x="-669.4 -613.4 -565.0 -516.2 -467.5 -424.7 -386.1 -360.8 -340.1 -275.5 -212.9" y="0" font-size="87" transform="translate(118 0) rotate(-90)">Bounce (mm)</text>
<text x="-1571.8 -1517.2 -1468.8 -1448.3 -1424.1 -1405.8 -1380.0 -1351.8 -1311.4 -1262.2" y="0" font-size="87" transform="translate(83.4 0) rotate(-90)">Roll (rad)</text>
<text x="1195.2 1248.7 1269.9 1332.5 1371.1 1393.8 1421.3 1462.8" y="2045.5" font-size="87">Time (s)</text>
<text x="2344.6 2372.1 2413.1" y="131.3" font-size="84">(a)</text>
<text x="2341.8 2371.3 2416.1" y="1112" font-size="84">(b)</text>
<text y="170.6" font-size="69.5"><tspan x="1913.4">0</tspan><tspan x="1948.3">.</tspan><tspan x="1968.7">1</tspan><tspan x="2002.1" font-style="italic">k</tspan><tspan x="2026.1" dy="22.0" font-style="italic" font-size="43" font-family="'DejaVu Serif',serif">f</tspan><tspan x="2057.8" dy="-22.0">,</tspan><tspan x="2098.9">0</tspan><tspan x="2133.9">.</tspan><tspan x="2152.1">1</tspan><tspan x="2186.0" font-style="italic">k</tspan><tspan x="2213.9" dy="21.5" font-style="italic" font-size="45">r</tspan></text>
<text y="288.3" font-size="69.5"><tspan x="1911.4" font-style="italic">k</tspan><tspan x="1935.5" dy="22.0" font-style="italic" font-size="43" font-family="'DejaVu Serif',serif">f</tspan><tspan x="1967.1" dy="-22.0">,</tspan><tspan x="2007.2" font-style="italic">k</tspan><tspan x="2033.4" dy="21.5" font-style="italic" font-size="45">r</tspan></text>
<text y="403.8" font-size="69.5"><tspan x="1911.9">1</tspan><tspan x="1946.9">0</tspan><tspan x="1980.3" font-style="italic">k</tspan><tspan x="2006.0" dy="22.0" font-style="italic" font-size="43" font-family="'DejaVu Serif',serif">f</tspan><tspan x="2038.5" dy="-22.0">,</tspan><tspan x="2076.1">1</tspan><tspan x="2113.2">0</tspan><tspan x="2146.6" font-style="italic">k</tspan><tspan x="2173.6" dy="21.5" font-style="italic" font-size="45">r</tspan></text>
</g>
</svg>
</body></html>
